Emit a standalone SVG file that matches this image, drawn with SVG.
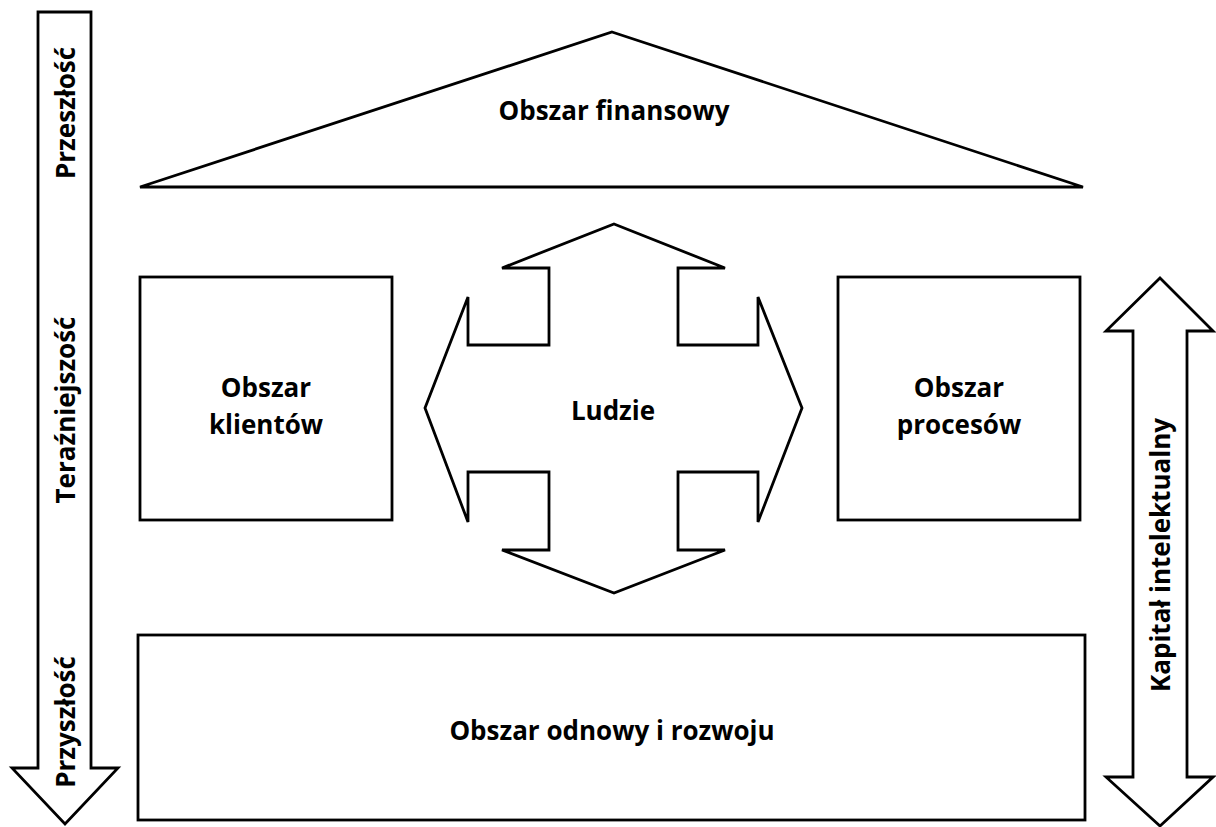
<svg xmlns="http://www.w3.org/2000/svg" width="1216" height="827" viewBox="0 0 1216 827">
  <style>
    .shape { fill: #ffffff; stroke: #000000; stroke-width: 2.8; stroke-linejoin: miter; }
    .label { font-family: "Open Sans", "Liberation Sans", sans-serif; font-weight: bold; font-size: 26px; fill: #000000; text-anchor: middle; dominant-baseline: central; }
  </style>
  <rect width="1216" height="827" fill="#ffffff"/>

  <g id="time-axis">
    <polygon class="shape" points="38,12 91,12 91,768 118,768 65,824 12,768 38,768"/>
    <text class="label" transform="translate(65,113) rotate(-90)">Przeszłość</text>
    <text class="label" transform="translate(65,410) rotate(-90)">Teraźniejszość</text>
    <text class="label" transform="translate(65,722) rotate(-90)">Przyszłość</text>
  </g>

  <g id="financial">
    <polygon class="shape" points="612,32 1083,187 140,187"/>
    <text class="label" x="614" y="110">Obszar finansowy</text>
  </g>

  <g id="clients">
    <rect class="shape" x="140" y="277" width="252" height="243"/>
    <text class="label" x="266" y="387">Obszar</text>
    <text class="label" x="266" y="424">klientów</text>
  </g>

  <g id="people">
    <polygon class="shape" points="614,224 725,268 678,268 678,345 758,345 758,297 802,408 758,522 758,472 678,472 678,550 725,550 614,593 502,550 549,550 549,472 468,472 468,522 425,408 468,297 468,345 549,345 549,268 502,268"/>
    <text class="label" x="613" y="410">Ludzie</text>
  </g>

  <g id="processes">
    <rect class="shape" x="838" y="277" width="242" height="243"/>
    <text class="label" x="959" y="387">Obszar</text>
    <text class="label" x="959" y="424">procesów</text>
  </g>

  <g id="renewal">
    <rect class="shape" x="138" y="635" width="947" height="185"/>
    <text class="label" x="612" y="730">Obszar odnowy i rozwoju</text>
  </g>

  <g id="capital">
    <polygon class="shape" points="1160,278 1213,331 1187,331 1187,777 1213,777 1160,826 1106,777 1133,777 1133,331 1106,331"/>
    <text class="label" transform="translate(1160,555) rotate(-90)">Kapitał intelektualny</text>
  </g>

  <g id="connectors"></g>
</svg>
